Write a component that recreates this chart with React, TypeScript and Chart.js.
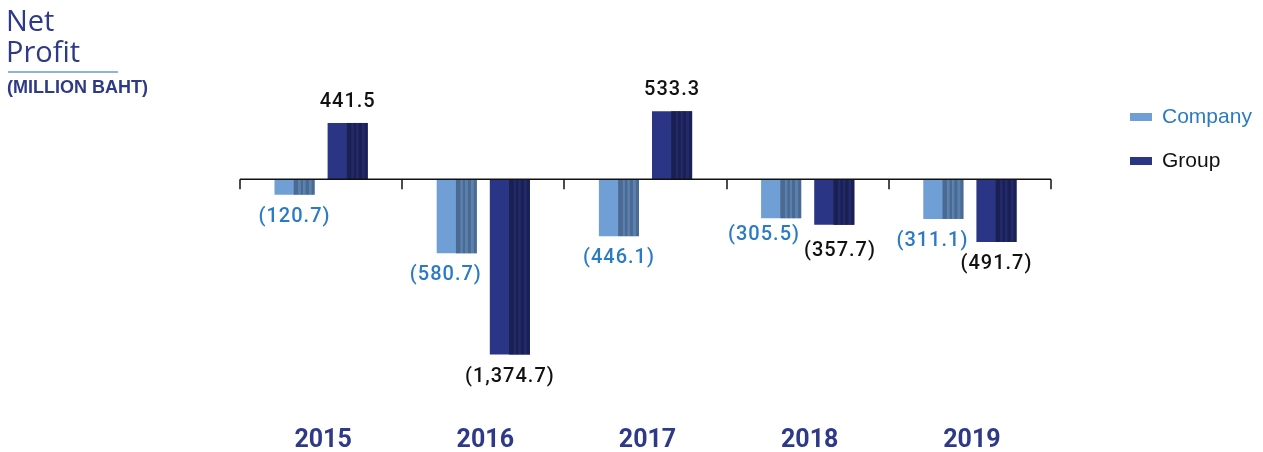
import { useEffect, useRef } from "react";
import { Chart, registerables } from "chart.js";

Chart.register(...registerables);

const years = ["2015", "2016", "2017", "2018", "2019"];
const seriesNames = ["Company", "Group"];
const companyValues = [-120.7, -580.7, -446.1, -305.5, -311.1];
const groupValues = [441.5, -1374.7, 533.3, -357.7, -491.7];
const titleLines = ["Net", "Profit"];
const unitLabel = "(MILLION BAHT)";

const NAVY = "#2e3a87";
const baseColors = ["#6f9fd4", "#2b3585"];
const darkColors = ["#4a6a92", "#1a2052"];
const midColors = ["#5b80ad", "#222a6c"];
const labelColors = ["#2b7bc4", "#111111"];

function fmt(v: number): string {
  const s = Math.abs(v).toLocaleString("en-US", {
    minimumFractionDigits: 1,
    maximumFractionDigits: 1,
  });
  return v < 0 ? `(${s})` : s;
}

const bands: [number, number, string][] = [
  [0.48, 0.6, "d"],
  [0.6, 0.65, "m"],
  [0.65, 0.72, "d"],
  [0.72, 0.77, "m"],
  [0.77, 0.86, "d"],
  [0.86, 0.92, "m"],
  [0.92, 1.0, "d"],
];

const decorPlugin = {
  id: "decor",
  afterDatasetsDraw(chart: any) {
    const ctx = chart.ctx as CanvasRenderingContext2D;
    const xs = chart.scales.x;
    const ys = chart.scales.y;
    // stripes
    chart.data.datasets.forEach((_ds: any, di: number) => {
      const meta = chart.getDatasetMeta(di);
      meta.data.forEach((bar: any) => {
        const p = bar.getProps(["x", "y", "base", "width"], true);
        const left = p.x - p.width / 2;
        const top = Math.min(p.y, p.base);
        const h = Math.abs(p.base - p.y);
        bands.forEach(([a, b, t]) => {
          ctx.fillStyle = t === "d" ? darkColors[di] : midColors[di];
          ctx.fillRect(left + a * p.width, top, (b - a) * p.width, h);
        });
      });
    });
    // zero line and ticks
    const y0 = ys.getPixelForValue(0);
    ctx.save();
    ctx.strokeStyle = "#111";
    ctx.lineWidth = 1.5;
    ctx.beginPath();
    ctx.moveTo(chart.chartArea.left, y0);
    ctx.lineTo(chart.chartArea.right, y0);
    for (let i = 0; i <= years.length; i++) {
      const x = Math.round(xs.getPixelForValue(i - 0.5));
      ctx.moveTo(x, y0);
      ctx.lineTo(x, y0 + 10);
    }
    ctx.stroke();
    ctx.restore();
    // value labels (with simple overlap avoidance)
    ctx.save();
    (ctx as any).letterSpacing = "1px";
    ctx.font = "500 20px Roboto";
    ctx.textAlign = "center";
    ctx.textBaseline = "middle";
    const metas = [chart.getDatasetMeta(0), chart.getDatasetMeta(1)];
    const dsets = chart.data.datasets;
    years.forEach((_yr, i) => {
      const items = metas.map((meta: any, di: number) => {
        const v = dsets[di].data[i];
        const p = meta.data[i].getProps(["x", "y", "width"], true);
        const text = fmt(v);
        const w = ctx.measureText(text).width;
        return { di, v, text, w, bx: p.x, bw: p.width, by: p.y, x: p.x, y: v >= 0 ? p.y - 21 : p.y + 22 };
      });
      const [a, b] = items;
      if (Math.abs(a.y - b.y) < 20) {
        const overlap = a.x + a.w / 2 - (b.x - b.w / 2) + 4;
        if (overlap > 0) {
          a.x -= overlap * 0.75;
          b.x += overlap * 0.25;
          a.y -= 5;
          b.y += 4;
        }
      }
      // keep company label clear of the neighbouring group bar
      if (b.v < 0 && a.y < b.by) {
        const barLeft = b.bx - b.bw / 2;
        const over = a.x + a.w / 2 - (barLeft - 8);
        if (over > 0) a.x -= over;
      }
      items.forEach((it) => {
        ctx.fillStyle = labelColors[it.di];
        ctx.fillText(it.text, it.x, it.y);
      });
    });
    ctx.restore();
    // year labels
    ctx.save();
    ctx.font = "bold 25px Roboto";
    ctx.fillStyle = NAVY;
    ctx.textAlign = "center";
    ctx.textBaseline = "middle";
    years.forEach((yr, i) => {
      ctx.fillText(yr, xs.getPixelForValue(i) + 2, 441);
    });
    ctx.restore();
  },
};

export default function App() {
  const ref = useRef<HTMLCanvasElement | null>(null);
  useEffect(() => {
    if (!ref.current) return;
    const chart = new Chart(ref.current, {
      type: "bar",
      data: {
        labels: years,
        datasets: [
          {
            label: seriesNames[0],
            data: companyValues,
            backgroundColor: baseColors[0],
            borderWidth: 0,
          },
          {
            label: seriesNames[1],
            data: groupValues,
            backgroundColor: baseColors[1],
            borderWidth: 0,
          },
        ],
      },
      options: {
        animation: false,
        responsive: false,
        layout: { padding: { left: 240, right: 212, top: 90, bottom: 56 } },
        datasets: {
          bar: { categoryPercentage: 0.655, barPercentage: 0.755 },
        },
        scales: {
          x: { display: false },
          y: { display: false, min: -1700, max: 700 },
        },
        plugins: {
          legend: { display: false },
          tooltip: { enabled: false },
        },
      },
      plugins: [decorPlugin],
    });
    return () => chart.destroy();
  }, []);

  return (
    <div
      style={{
        position: "absolute",
        left: 0,
        top: 0,
        width: 1263,
        height: 452,
        background: "#fff",
        overflow: "hidden",
      }}
    >
      <canvas
        ref={ref}
        width={1263}
        height={452}
        style={{ position: "absolute", left: 0, top: 0, width: 1263, height: 452 }}
      />
      <div
        style={{
          position: "absolute",
          left: 6,
          top: 4,
          fontFamily: "'Open Sans', sans-serif",
          fontWeight: 400,
          fontSize: 29,
          lineHeight: "31px",
          color: NAVY,
        }}
      >
        {titleLines.map((t) => (
          <div key={t}>{t}</div>
        ))}
      </div>
      <div
        style={{
          position: "absolute",
          left: 8,
          top: 71,
          width: 110,
          height: 2,
          background: "#8fb3e0",
        }}
      />
      <div
        style={{
          position: "absolute",
          left: 7,
          top: 77,
          fontFamily: "'Liberation Sans', Arial, sans-serif",
          fontWeight: 700,
          fontSize: 18,
          lineHeight: "20px",
          color: NAVY,
          whiteSpace: "nowrap",
        }}
      >
        {unitLabel}
      </div>
      {seriesNames.map((name, i) => (
        <div key={name}>
          <div
            style={{
              position: "absolute",
              left: 1130,
              top: i === 0 ? 113 : 157,
              width: 22,
              height: 8,
              background: baseColors[i],
            }}
          />
          <div
            style={{
              position: "absolute",
              left: 1162,
              top: i === 0 ? 104 : 148,
              fontFamily: "'Liberation Sans', Arial, sans-serif",
              fontSize: 21,
              lineHeight: "24px",
              color: i === 0 ? "#2b7bc4" : "#111",
              whiteSpace: "nowrap",
            }}
          >
            {name}
          </div>
        </div>
      ))}
    </div>
  );
}
